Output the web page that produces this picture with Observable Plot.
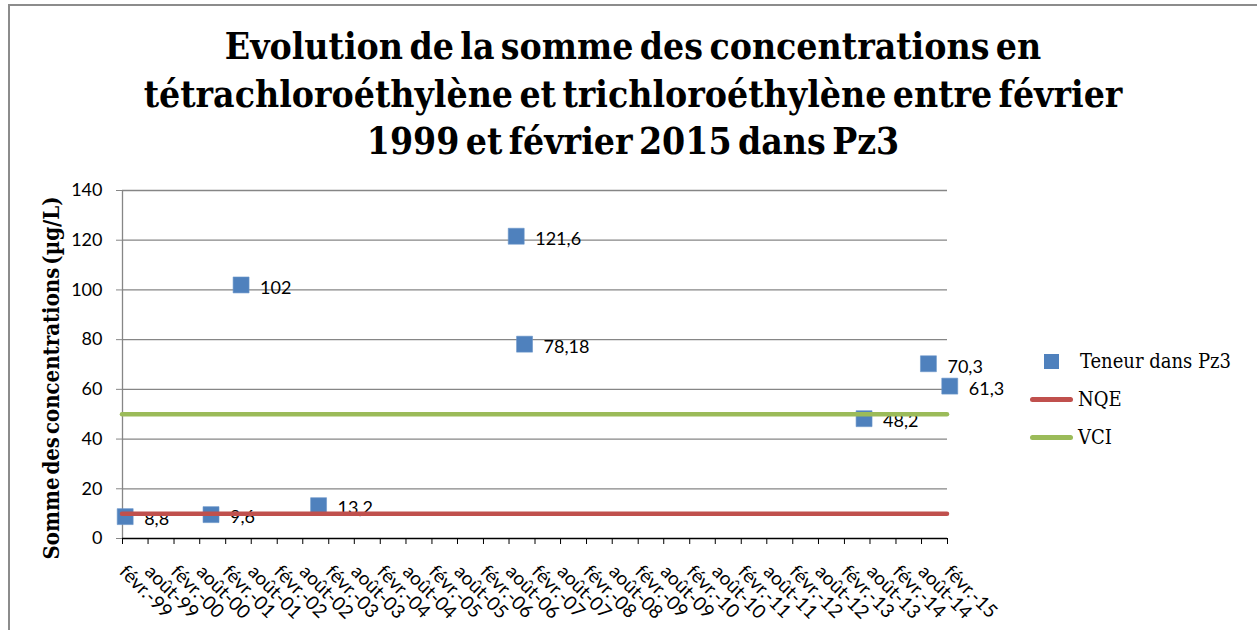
<!DOCTYPE html>
<html>
<head>
<meta charset="utf-8">
<script src="https://cdn.jsdelivr.net/npm/d3@7"></script>
<script src="https://cdn.jsdelivr.net/npm/@observablehq/plot@0.6"></script>
<style>
  html, body { margin: 0; padding: 0; background: #fff; }
  #chart { position: relative; width: 1257px; height: 630px; overflow: hidden; }
  #frame { position: absolute; left: 8px; top: 4px; width: 1300px; height: 700px;
           border-left: 2px solid #8c8c8c; border-top: 2px solid #8c8c8c; box-sizing: border-box; }
  #title { position: absolute; left: 0; top: 23px; width: 1266px; text-align: center;
           font-family: "DejaVu Serif Condensed", "DejaVu Serif", serif; font-stretch: condensed;
           font-weight: bold; font-size: 37px; line-height: 47.5px; color: #000; word-spacing: -0.14em; }
  #plot { position: absolute; left: 0; top: 170px; }
  #legend { position: absolute; left: 0; top: 0; font-family: "DejaVu Serif Condensed", "DejaVu Serif", serif; font-stretch: condensed; font-size: 20px; color: #000; }
  .lg { position: absolute; white-space: nowrap; }
</style>
</head>
<body>
<div id="chart">
  <div id="frame"></div>
  <div id="title">Evolution de la somme des concentrations en<br>tétrachloroéthylène et trichloroéthylène entre février<br>1999 et février 2015 dans Pz3</div>
  <div id="plot"></div>
  <div id="legend"></div>
</div>
<script>
// ---- data ----
const sampleDates = ["1999-02-20", "2000-10-20", "2001-05-21", "2002-11-21", "2006-09-21", "2006-11-19", "2013-06-20", "2014-09-19", "2015-02-17"];
const sampleValues = [8.8, 9.6, 102, 13.2, 121.6, 78.18, 48.2, 70.3, 61.3];
const valueLabels = ["8,8", "9,6", "102", "13,2", "121,6", "78,18", "48,2", "70,3", "61,3"];
const nqeValue = 10;
const vciValue = 50;
const seriesNames = ["Teneur dans Pz3", "NQE", "VCI"];
const seriesColors = ["#4F81BD", "#C0504D", "#9BBB59"];
const yTicks = [0, 20, 40, 60, 80, 100, 120, 140];
const xTickLabels = ["févr.-99","août-99","févr.-00","août-00","févr.-01","août-01","févr.-02","août-02","févr.-03","août-03","févr.-04","août-04","févr.-05","août-05","févr.-06","août-06","févr.-07","août-07","févr.-08","août-08","févr.-09","août-09","févr.-10","août-10","févr.-11","août-11","févr.-12","août-12","févr.-13","août-13","févr.-14","août-14","févr.-15"];
const xStart = "1999-02-01";
const xEnd = "2015-02-01";
const yTitle = "Somme des concentrations (µg/L)";

// ---- derived ----
const start = new Date(xStart), end = new Date(xEnd);
const tickDates = xTickLabels.map((_, i) => d3.utcMonth.offset(start, 6 * i));
const labelByTime = new Map(tickDates.map((d, i) => [+d, xTickLabels[i]]));
const data = sampleDates.map((d, i) => ({date: new Date(d), value: sampleValues[i], label: valueLabels[i]}));

const chart = Plot.plot({
  width: 1257,
  height: 460,
  marginLeft: 122,
  marginRight: 310,
  marginTop: 20,
  marginBottom: 92,
  style: {fontFamily: "Lato, sans-serif", fontSize: "18px", color: "#000", background: "transparent", overflow: "visible"},
  x: {type: "utc", domain: [start, end]},
  y: {domain: [0, 140]},
  marks: [
    Plot.gridY(yTicks.filter(d => d > 0), {stroke: "#868686", strokeOpacity: 1, strokeWidth: 1.3}),
    Plot.ruleX([start], {y1: 0, y2: 140, stroke: "#868686", strokeWidth: 1.3}),
    Plot.axisY({ticks: yTicks, tickSize: 6, tickPadding: 14, stroke: "#868686", strokeOpacity: 1, label: null, fontSize: 18}),
    Plot.ruleY([0], {stroke: "#000", strokeWidth: 1.3}),
    Plot.axisX({ticks: tickDates, tickFormat: d => labelByTime.get(+d), tickRotate: 45, tickSize: 6, tickPadding: 24,
                textAnchor: "start", stroke: "#000", strokeOpacity: 1, label: null, fontSize: 19}),
    Plot.dot(data, {x: "date", y: "value", symbol: "square", r: 9, fill: seriesColors[0], stroke: "#6a95c9", strokeWidth: 0.6}),
    Plot.text(data, {x: "date", y: "value", text: "label", dx: 19, dy: 3, textAnchor: "start", fontSize: 18, fill: "#000"}),
    Plot.ruleY([nqeValue], {x1: start, x2: end, stroke: seriesColors[1], strokeWidth: 4.5, strokeLinecap: "round"}),
    Plot.ruleY([vciValue], {x1: start, x2: end, stroke: seriesColors[2], strokeWidth: 4.5, strokeLinecap: "round"})
  ]
});
document.getElementById("plot").appendChild(chart);

// y axis title (HTML, rotated)
const yt = document.createElement("div");
yt.textContent = yTitle;
Object.assign(yt.style, {position: "absolute", left: "51px", top: "378px", transform: "translate(-50%, -50%) rotate(-90deg)",
  whiteSpace: "nowrap", fontFamily: "'DejaVu Serif Condensed', 'DejaVu Serif', serif", fontStretch: "condensed", fontWeight: "bold", fontSize: "22px", wordSpacing: "-0.18em"});
document.getElementById("chart").appendChild(yt);

// legend
const legend = document.getElementById("legend");
const items = [
  {type: "square", name: seriesNames[0], color: seriesColors[0], top: 361},
  {type: "line", name: seriesNames[1], color: seriesColors[1], top: 399},
  {type: "line", name: seriesNames[2], color: seriesColors[2], top: 437}
];
items.forEach(it => {
  const sw = document.createElement("div");
  sw.className = "lg";
  if (it.type === "square") {
    Object.assign(sw.style, {left: "1044px", top: (it.top - 7) + "px", width: "15px", height: "15px", background: it.color});
  } else {
    Object.assign(sw.style, {left: "1030px", top: (it.top - 2) + "px", width: "43px", height: "5px", background: it.color, borderRadius: "3px"});
  }
  legend.appendChild(sw);
  const tx = document.createElement("div");
  tx.className = "lg";
  tx.textContent = it.name;
  Object.assign(tx.style, {left: (it.type === "square" ? 1080 : 1078) + "px", top: (it.top - 12) + "px", lineHeight: "24px"});
  legend.appendChild(tx);
});
</script>
</body>
</html>
